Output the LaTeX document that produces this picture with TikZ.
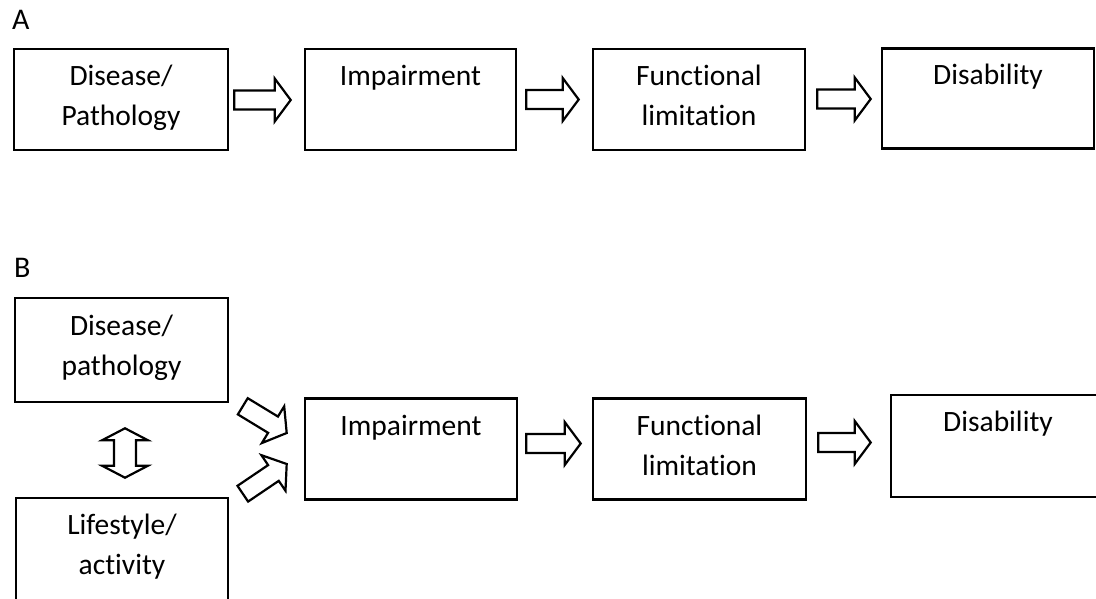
\documentclass[tikz,border=0pt]{standalone}
\usepackage{fontspec}
\setmainfont[Ligatures=NoCommon]{Carlito}
\usetikzlibrary{calc}

\tikzset{
  box/.style={draw, rectangle, line width=2.6pt, inner sep=0pt},
  txt/.style={anchor=base, align=center, inner sep=0pt,
              font=\fontsize{29.5}{40}\selectfont},
  blk/.style={draw, line width=2.2pt, line join=miter, fill=white},
  panel/.style={anchor=base west, inner sep=0pt,
                font=\fontsize{30}{34}\selectfont}
}

% hollow block arrow from tail centre #1 to tip #2
\newcommand\blockarrow[2]{%
  \coordinate (bh) at ($(#2)!16pt!(#1)$);
  \draw[blk] ($(#1)!9.5pt!90:(#2)$) -- ($(bh)!9.5pt!-90:(#1)$)
    -- ($(bh)!21.5pt!-90:(#1)$) -- (#2) -- ($(bh)!21.5pt!90:(#1)$)
    -- ($(bh)!9.5pt!90:(#1)$) -- ($(#1)!9.5pt!-90:(#2)$) -- cycle;
}

% hollow double-headed block arrow between tips #1 and #2
\newcommand\doubleblockarrow[2]{%
  \coordinate (dh1) at ($(#1)!12pt!(#2)$);
  \coordinate (dh2) at ($(#2)!12pt!(#1)$);
  \draw[blk] (#1) -- ($(dh1)!23pt!90:(#2)$) -- ($(dh1)!11pt!90:(#2)$)
    -- ($(dh2)!11pt!-90:(#1)$) -- ($(dh2)!23pt!-90:(#1)$) -- (#2)
    -- ($(dh2)!23pt!90:(#1)$) -- ($(dh2)!11pt!90:(#1)$)
    -- ($(dh1)!11pt!-90:(#2)$) -- ($(dh1)!23pt!-90:(#2)$) -- cycle;
}

\begin{document}
\begin{tikzpicture}[x=1pt, y=-1pt]
\clip (0,0) rectangle (1096,599);

% ---------------- panel A ----------------
\node[panel] (labA) at (12,30) {A};

\node[box, minimum width=214pt, minimum height=101pt] (a1) at (121,99.5) {};
\node[box, minimum width=211pt, minimum height=101pt] (a2) at (410.5,99.5) {};
\node[box, minimum width=212pt, minimum height=101pt] (a3) at (699,99.5) {};
\node[box, minimum width=212pt, minimum height=100pt] (a4) at (988,98.5) {};

% a text's base anchor sits on its last line, 40pt below the first
\node[txt] (a1t) at ($(a1.north)+(0,78)$) {Disease/\\Pathology};
\node[txt] (a2t) at ($(a2.north)+(0,37.5)$) {Impairment};
\node[txt] (a3t) at ($(a3.north)+(0,77.5)$) {Functional\\limitation};
\node[txt] (a4t) at ($(a4.north)+(0,37.5)$) {Disability};

\coordinate (a12s) at ($(a1.east)+(5,0.5)$);
\coordinate (a12t) at ($(a2.west)+(-13,0.5)$);
\coordinate (a23s) at ($(a2.east)+(9,0)$);
\coordinate (a23t) at ($(a3.west)+(-13,0)$);
\coordinate (a34s) at ($(a3.east)+(11,-0.5)$);
\coordinate (a34t) at ($(a4.west |- a3.east)+(-10,-0.5)$);
\blockarrow{a12s}{a12t}
\blockarrow{a23s}{a23t}
\blockarrow{a34s}{a34t}

% ---------------- panel B ----------------
\node[panel] (labB) at (14,277) {B};

\node[box, minimum width=213pt, minimum height=104pt] (b1) at (121.5,350) {};
\node[box, minimum width=212pt, minimum height=112pt] (b2) at (122,554) {};
\node[box, minimum width=212pt, minimum height=101pt] (b3) at (411,449) {};
\node[box, minimum width=213pt, minimum height=101pt] (b4) at (699.5,449) {};
\node[box, minimum width=214pt, minimum height=102pt] (b5) at (998,446) {};

\node[txt] (b1t) at ($(b1.north)+(0,79)$) {Disease/\\pathology};
\node[txt] (b2t) at ($(b2.north)+(0,78)$) {Lifestyle/\\activity};
\node[txt] (b3t) at ($(b3.north)+(0,38)$) {Impairment};
\node[txt] (b4t) at ($(b4.north)+(0,78)$) {Functional\\limitation};
\node[txt] (b5t) at ($(b5.north)+(0,38)$) {Disability};

% two-way link between the two causes
\coordinate (b12u) at ($(b1.south)+(3.5,25)$);
\coordinate (b12d) at ($(b2.north)+(3,-19)$);
\doubleblockarrow{b12u}{b12d}

% both causes feed into impairment
\coordinate (b13s) at ($(b1.south east)+(13.5,3)$);
\coordinate (b13t) at ($(b3.west)+(-17,-16)$);
\coordinate (b23s) at ($(b2.north east)+(13.5,-3)$);
\coordinate (b23t) at ($(b3.west)+(-17,15)$);
\blockarrow{b13s}{b13t}
\blockarrow{b23s}{b23t}

\coordinate (b34s) at ($(b3.east)+(8,-5.5)$);
\coordinate (b34t) at ($(b4.west)+(-11,-5.5)$);
\coordinate (b45s) at ($(b4.east)+(11,-6.5)$);
\coordinate (b45t) at ($(b5.west |- b4.east)+(-19,-6.5)$);
\blockarrow{b34s}{b34t}
\blockarrow{b45s}{b45t}
\end{tikzpicture}
\end{document}
